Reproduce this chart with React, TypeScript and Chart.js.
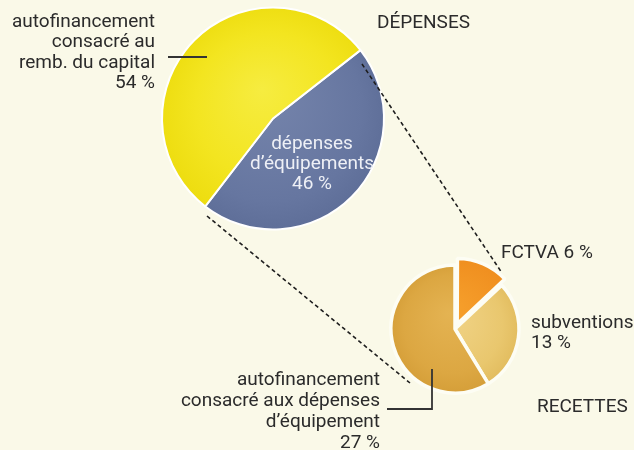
import React, { useEffect, useRef } from "react";
import { Chart, registerables } from "chart.js";

Chart.register(...registerables);

// ---- Data ----
const depensesLabels = ["dépenses d’équipements", "autofinancement consacré au remb. du capital"];
const depensesValues = [46, 54];
const recettesLabels = ["FCTVA", "subventions", "autofinancement consacré aux dépenses d’équipement"];
const recettesValues = [6, 13, 27];

// ---- Text ----
const depensesTitle = "DÉPENSES";
const recettesTitle = "RECETTES";
const capitalLabel = ["autofinancement", "consacré au", "remb. du capital", "54 %"];
const equipLabel = ["dépenses", "d’équipements", "46 %"];
const fctvaLabel = ["FCTVA 6 %"];
const subvLabel = ["subventions", "13 %"];
const autoLabel = ["autofinancement", "consacré aux dépenses", "d’équipement", "27 %"];

const W = 634;
const H = 450;
const BG = "#faf9e8";
const FONT = "19px Roboto, 'Liberation Sans', Arial, sans-serif";
const TEXT = "#2b2b2b";

const BIG = { cx: 273, cy: 117, r: 111 };
const SMALL = { cx: 455, cy: 329, r: 64 };

type Stops = [number, string][];

function radial(stopsList: Stops[], geo: { cx: number; cy: number; r: number }) {
  return (c: any) => {
    const chart = c.chart;
    const stops = stopsList[c.dataIndex ?? 0] || stopsList[0];
    const g = chart.ctx.createRadialGradient(
      geo.cx - geo.r * 0.1,
      geo.cy - geo.r * 0.25,
      0,
      geo.cx,
      geo.cy,
      geo.r * 1.1
    );
    stops.forEach(([p, col]) => g.addColorStop(p, col));
    return g;
  };
}

const bigStops: Stops[] = [
  [[0, "#7685ac"], [0.75, "#6676a0"], [1, "#5c6c96"]],
  [[0, "#f6ec40"], [0.6, "#f3e520"], [1, "#ecdb0c"]],
];
const smallStops: Stops[] = [
  [[0, "#f6a02c"], [1, "#ef8d1e"]],
  [[0, "#f1d488"], [0.7, "#e9c76e"], [1, "#e0b95a"]],
  [[0, "#e4b352"], [0.7, "#dca742"], [1, "#d39c36"]],
];

function padFor(geo: { cx: number; cy: number; r: number }, half: number) {
  return {
    left: geo.cx - half,
    right: W - (geo.cx + half),
    top: geo.cy - half,
    bottom: H - (geo.cy + half),
  };
}

const overlay = {
  id: "overlay",
  afterDraw(chart: any) {
    const ctx = chart.ctx as CanvasRenderingContext2D;
    ctx.save();
    // dashed connectors
    ctx.setLineDash([4, 3]);
    ctx.lineWidth = 1.6;
    ctx.strokeStyle = "#1e1e1e";
    ctx.beginPath();
    ctx.moveTo(362, 64);
    ctx.lineTo(502, 273);
    ctx.moveTo(207, 216);
    ctx.lineTo(410, 383);
    ctx.stroke();
    ctx.setLineDash([]);

    // leaders
    ctx.lineWidth = 1.8;
    ctx.strokeStyle = "#333";
    ctx.beginPath();
    ctx.moveTo(168, 57);
    ctx.lineTo(207, 57);
    ctx.moveTo(387, 409);
    ctx.lineTo(432, 409);
    ctx.lineTo(432, 369);
    ctx.stroke();

    ctx.font = FONT;
    ctx.textBaseline = "middle";
    ctx.fillStyle = TEXT;

    ctx.textAlign = "right";
    capitalLabel.forEach((t, i) => ctx.fillText(t, 155, 22 + i * 20.5));
    autoLabel.forEach((t, i) => ctx.fillText(t, 380, 380 + i * 21));

    ctx.textAlign = "left";
    ctx.fillText(depensesTitle, 377, 23);
    ctx.fillText(recettesTitle, 537, 407);
    fctvaLabel.forEach((t, i) => ctx.fillText(t, 501, 253 + i * 20));
    subvLabel.forEach((t, i) => ctx.fillText(t, 531, 323 + i * 20));

    ctx.textAlign = "center";
    ctx.fillStyle = "#eef0f6";
    equipLabel.forEach((t, i) => ctx.fillText(t, 312, 144 + i * 20));
    ctx.restore();
  },
};

export default function App() {
  const bigRef = useRef<HTMLCanvasElement>(null);
  const smallRef = useRef<HTMLCanvasElement>(null);

  useEffect(() => {
    document.body.style.margin = "0";
    const big = new Chart(bigRef.current!, {
      type: "pie",
      data: {
        labels: depensesLabels,
        datasets: [
          {
            data: depensesValues,
            backgroundColor: radial(bigStops, BIG) as any,
            borderColor: "#ffffff",
            borderWidth: 2,
            radius: BIG.r,
          } as any,
        ],
      },
      options: {
        animation: false,
        responsive: false,
        devicePixelRatio: 1,
        rotation: 52,
        layout: { padding: padFor(BIG, 120) },
        plugins: { legend: { display: false }, tooltip: { enabled: false } },
        events: [],
      },
    });
    const small = new Chart(smallRef.current!, {
      type: "pie",
      data: {
        labels: recettesLabels,
        datasets: [
          {
            data: recettesValues,
            backgroundColor: radial(smallStops, SMALL) as any,
            borderColor: "#fdfdf4",
            borderWidth: 3.5,
            offset: [22, 0, 0],
            radius: SMALL.r,
          } as any,
        ],
      },
      options: {
        animation: false,
        responsive: false,
        devicePixelRatio: 1,
        rotation: 0,
        layout: { padding: padFor(SMALL, 78) },
        plugins: { legend: { display: false }, tooltip: { enabled: false } },
        events: [],
      },
      plugins: [overlay],
    });
    return () => {
      big.destroy();
      small.destroy();
    };
  }, []);

  return (
    <div style={{ position: "absolute", left: 0, top: 0, width: W, height: H, background: BG, overflow: "hidden" }}>
      <canvas ref={bigRef} width={W} height={H} style={{ position: "absolute", left: 0, top: 0, width: W, height: H }} />
      <canvas ref={smallRef} width={W} height={H} style={{ position: "absolute", left: 0, top: 0, width: W, height: H }} />
    </div>
  );
}
